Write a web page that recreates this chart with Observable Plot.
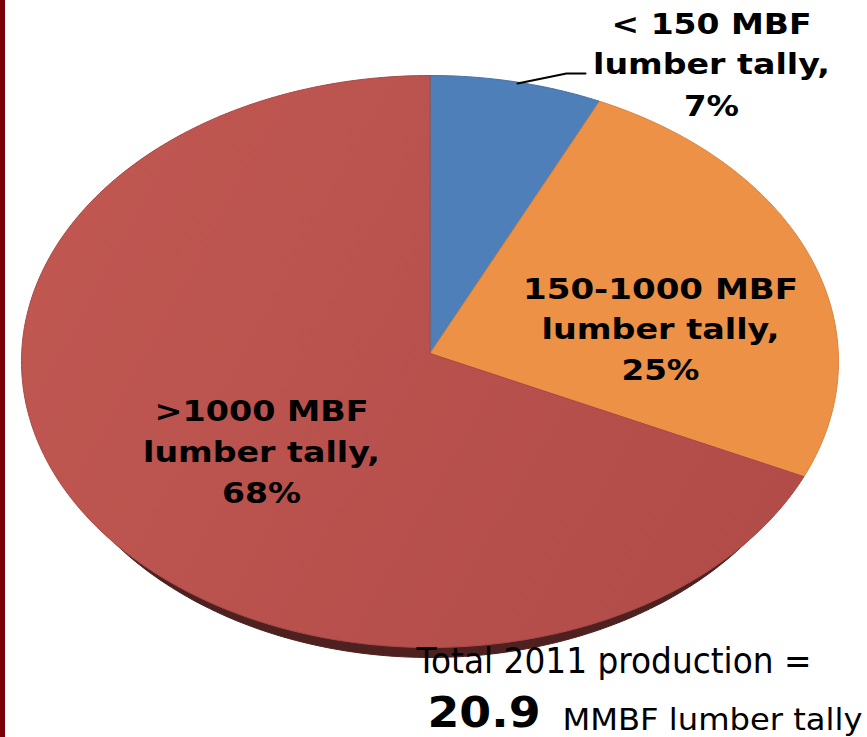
<!DOCTYPE html>
<html>
<head>
<meta charset="utf-8">
<script src="https://cdn.jsdelivr.net/npm/d3@7"></script>
<script src="https://cdn.jsdelivr.net/npm/@observablehq/plot@0.6"></script>
<style>
  html, body { margin: 0; padding: 0; background: #fff; }
  body { width: 867px; height: 737px; overflow: hidden; position: relative;
         background: linear-gradient(to right, #7a0206 0, #7a0206 5px, #fff 5px); }
  svg { display: block; background: transparent !important; overflow: visible; }
</style>
</head>
<body>
<div id="chart"></div>
<script>
// Chart values
const categories = ["< 150 MBF", "150-1000 MBF", ">1000 MBF"];
const shares = [7, 25, 68];
const colors = ["#4f7fb8", "#ec9146", "url(#redFace)"];
const edgeColors = ["#4672a6", "#d98440", "#a84a47"];
const depthColor = "#4e201f";
const redStops = ["#c05751", "#b14c49"];

// Label lines
const labelLines = [
  ["< 150 MBF", "lumber tally,", "7%"],
  ["150-1000 MBF", "lumber tally,", "25%"],
  [">1000 MBF", "lumber tally,", "68%"]
];
const totalLine = "Total 2011 production =";
const totalValue = "20.9";
const totalUnit = "MMBF lumber tally";

// Layout (pixels of the picture)
const W = 867, H = 737;
const pie = {left: 21, right: 838, top: 75, bottom: 647, apexY: 353, depth: 10, rimScale: 0.965};
const labelLayout = [
  {x: 711, base: [33, 73, 115], w: [200, 237, 55]},
  {x: 660, base: [298, 338, 379], w: [275, 238, 78]},
  {x: 261, base: [420, 461, 502], w: [214, 237, 79]}
];

const rx = (pie.right - pie.left) / 2, ry = (pie.bottom - pie.top) / 2;
const cx = pie.left + rx, cy = pie.top + ry;
// Pie units: the ellipse is the unit circle on the x and y scales.
const ux = (px) => (px - cx) / rx;
const uy = (py) => (cy - py) / ry;
const k = uy(pie.apexY); // perspective of the tilted pie: centre lands at the apex
const tilt = (a) => {
  const X = Math.sin(a), Y = Math.cos(a), d = 1 + k * Y;
  return {x: (Math.sqrt(1 - k * k) * X) / d, y: (Y + k) / d};
};

// Slice outlines from the values
const total = d3.sum(shares);
const cum = d3.cumsum(shares);
const slices = [];
categories.forEach((c, i) => {
  const a0 = ((cum[i] - shares[i]) / total) * 2 * Math.PI;
  const a1 = (cum[i] / total) * 2 * Math.PI;
  const n = Math.max(2, Math.ceil((a1 - a0) * 60));
  slices.push({cat: c, x: ux(cx), y: k});
  for (let j = 0; j <= n; j++) slices.push({cat: c, ...tilt(a0 + ((a1 - a0) * j) / n)});
  slices.push({cat: c, x: ux(cx), y: k});
});
const depthRim = d3.range(0, 361, 1).map((deg) => ({
  x: pie.rimScale * Math.sin((deg * Math.PI) / 180),
  y: Math.cos((deg * Math.PI) / 180) - pie.depth / ry
}));

const textRows = labelLines.flatMap((lines, i) =>
  lines.map((t, j) => ({t, x: ux(labelLayout[i].x), y: uy(labelLayout[i].base[j]), w: labelLayout[i].w[j]}))
);
const stretched = (rows) => (index, scales, values, dims, ctx, next) => {
  const g = next(index, scales, values, dims, ctx);
  const els = g.querySelectorAll("text");
  Array.from(index).forEach((idx, i) => {
    els[i].setAttribute("textLength", rows[idx].w);
    els[i].setAttribute("lengthAdjust", "spacingAndGlyphs");
  });
  return g;
};

const bottomRows = [
  {t: totalLine, x: ux(416), y: uy(672), w: 395},
  {t: totalValue, x: ux(427), y: uy(726.5), w: 113},
  {t: totalUnit, x: ux(562), y: uy(729), w: 300}
];
const textMark = (rows, size, weight, anchor) => Plot.text(rows, {
  x: "x", y: "y", text: "t", lineAnchor: "bottom", textAnchor: anchor,
  fontFamily: "DejaVu Sans", fontSize: size, fontWeight: weight, fill: "#000",
  render: stretched(rows)
});

const chart = Plot.plot({
  width: W, height: H,
  margin: 0,
  x: {domain: [ux(0), ux(W)], range: [0, W], axis: null},
  y: {domain: [uy(H), uy(0)], range: [H, 0], axis: null},
  color: {domain: categories, range: colors},
  style: {background: "transparent"},
  marks: [
    Plot.line(depthRim, {x: "x", y: "y", fill: depthColor, stroke: depthColor, strokeWidth: 1, curve: "linear"}),
    Plot.line(slices, {x: "x", y: "y", z: "cat", fill: "cat", stroke: (d) => edgeColors[categories.indexOf(d.cat)], strokeWidth: 1, curve: "linear"}),
    Plot.line([{x: ux(517), y: uy(83)}, {x: ux(566), y: uy(73)}, {x: ux(585), y: uy(73)}],
      {x: "x", y: "y", stroke: "#000", strokeWidth: 2, curve: "linear"}),
    textMark(textRows, 29, 700, "middle"),
    textMark(bottomRows.slice(0, 1), 36, 400, "start"),
    textMark(bottomRows.slice(1, 2), 43, 700, "start"),
    textMark(bottomRows.slice(2), 31, 400, "start")
  ]
});
d3.select(chart).insert("defs", ":first-child")
  .append("linearGradient").attr("id", "redFace")
  .attr("x1", 0).attr("x2", 1).attr("y1", 0.3).attr("y2", 0.7)
  .selectAll("stop").data(redStops).join("stop")
  .attr("offset", (d, i) => i).attr("stop-color", (d) => d);
document.getElementById("chart").appendChild(chart);
</script>
</body>
</html>
